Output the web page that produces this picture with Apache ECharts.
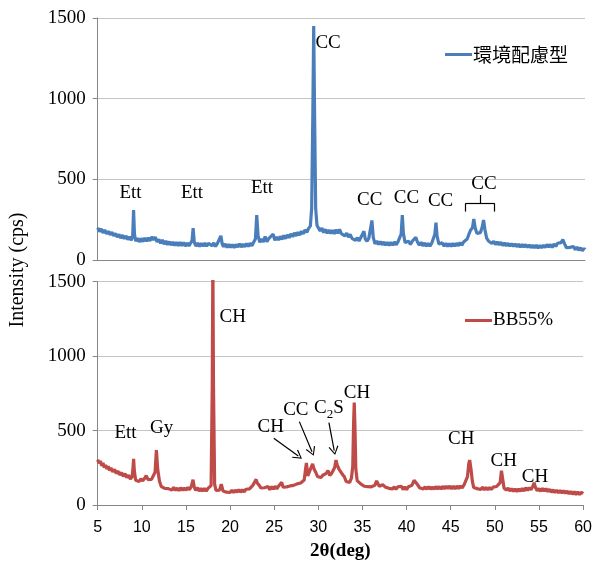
<!DOCTYPE html>
<html><head><meta charset="utf-8">
<script src="https://cdn.jsdelivr.net/npm/echarts@6/dist/echarts.min.js"></script>
<style>html,body{margin:0;padding:0;background:#fff}#c{width:595px;height:562px}</style>
</head><body><div id="c"></div>
<script>
// ---- data ----
const xMin = 5, xMax = 60, xStep = 5;
const yMin = 0, yMax = 1500, yStep = 500;
const envName = '環境配慮型';
const bbName = 'BB55%';
const envPattern = [[5.0,200],[5.2,176],[5.4,192],[5.6,168],[5.8,186],[6.0,162],[6.2,178],[6.4,156],[6.6,172],[6.8,150],[7.0,164],[7.2,142],[7.4,158],[7.6,136],[7.8,154],[8.0,132],[8.2,150],[8.4,126],[8.6,144],[8.8,122],[8.95,150],[9.05,310],[9.15,160],[9.3,116],[9.5,136],[9.7,112],[9.9,134],[10.1,114],[10.3,136],[10.5,116],[10.7,138],[10.9,118],[11.1,144],[11.3,124],[11.5,142],[11.7,112],[11.9,128],[12.1,104],[12.3,124],[12.5,98],[12.7,118],[12.9,94],[13.1,114],[13.3,92],[13.5,112],[13.7,90],[13.9,110],[14.1,88],[14.3,110],[14.5,88],[14.7,108],[14.9,86],[15.1,106],[15.3,88],[15.5,106],[15.65,120],[15.77,198],[15.9,110],[16.1,86],[16.3,106],[16.5,84],[16.7,104],[16.9,86],[17.1,106],[17.3,86],[17.5,104],[17.7,116],[17.9,88],[18.1,106],[18.3,84],[18.5,102],[18.7,112],[18.9,150],[19.05,100],[19.2,82],[19.4,100],[19.6,78],[19.8,98],[20.0,78],[20.2,96],[20.4,76],[20.6,96],[20.8,80],[21.0,100],[21.2,80],[21.4,98],[21.6,82],[21.8,102],[22.0,84],[22.2,104],[22.4,88],[22.6,110],[22.8,130],[22.95,278],[23.1,150],[23.3,110],[23.5,130],[23.7,112],[23.9,146],[24.1,114],[24.3,132],[24.5,124],[24.8,160],[25.0,122],[25.2,142],[25.4,124],[25.6,146],[25.8,128],[26.0,152],[26.2,132],[26.4,156],[26.6,138],[26.8,162],[27.0,144],[27.2,168],[27.4,150],[27.6,172],[27.8,154],[28.0,178],[28.2,162],[28.4,186],[28.6,172],[28.8,196],[29.0,210],[29.15,320],[29.28,900],[29.38,1450],[29.48,900],[29.6,320],[29.75,215],[29.9,200],[30.1,180],[30.3,198],[30.5,170],[30.7,190],[30.9,166],[31.1,186],[31.3,164],[31.5,184],[31.7,162],[31.9,188],[32.1,166],[32.3,190],[32.5,164],[32.7,170],[32.9,150],[33.1,166],[33.3,142],[33.5,158],[33.7,134],[33.9,142],[34.1,122],[34.3,138],[34.5,118],[34.7,140],[34.9,150],[35.05,178],[35.2,130],[35.4,116],[35.6,134],[35.8,140],[35.95,245],[36.1,140],[36.3,100],[36.5,118],[36.7,96],[36.9,114],[37.1,94],[37.3,112],[37.5,92],[37.7,110],[37.9,90],[38.1,110],[38.3,92],[38.5,112],[38.7,94],[38.9,114],[39.1,114],[39.25,160],[39.38,278],[39.5,165],[39.7,108],[39.9,98],[40.1,116],[40.3,96],[40.5,116],[40.7,126],[40.9,140],[41.1,110],[41.3,92],[41.5,110],[41.7,88],[41.9,106],[42.1,86],[42.3,104],[42.5,86],[42.7,104],[42.9,110],[43.05,160],[43.18,232],[43.3,150],[43.5,100],[43.7,88],[43.9,106],[44.1,86],[44.3,104],[44.5,84],[44.7,102],[44.9,84],[45.1,104],[45.3,86],[45.5,104],[45.7,88],[45.9,108],[46.1,92],[46.3,112],[46.5,112],[46.7,130],[46.9,160],[47.1,186],[47.3,200],[47.45,254],[47.6,200],[47.8,165],[48.0,155],[48.2,170],[48.4,205],[48.55,248],[48.7,190],[48.9,135],[49.1,118],[49.3,114],[49.5,102],[49.7,116],[49.9,96],[50.1,112],[50.3,94],[50.5,110],[50.7,90],[50.9,106],[51.1,88],[51.3,104],[51.5,86],[51.7,102],[51.9,84],[52.1,100],[52.3,82],[52.5,98],[52.7,80],[52.9,96],[53.1,80],[53.3,96],[53.5,78],[53.7,94],[53.9,76],[54.1,92],[54.3,76],[54.5,92],[54.7,74],[54.9,90],[55.1,76],[55.3,92],[55.5,78],[55.7,96],[55.9,80],[56.1,96],[56.3,78],[56.5,100],[56.7,84],[56.9,104],[57.1,95],[57.3,108],[57.5,126],[57.7,100],[57.9,76],[58.1,84],[58.3,78],[58.5,70],[58.7,84],[58.9,64],[59.1,80],[59.3,60],[59.5,76],[59.7,58],[59.9,72],[60.0,65]];
const bbPattern = [[5.0,305],[5.15,280],[5.3,296],[5.45,264],[5.6,282],[5.75,252],[5.9,268],[6.05,242],[6.2,260],[6.35,232],[6.5,250],[6.7,222],[6.9,240],[7.1,212],[7.3,228],[7.5,202],[7.7,218],[7.9,192],[8.1,210],[8.3,184],[8.5,200],[8.7,174],[8.9,190],[9.0,250],[9.07,310],[9.15,230],[9.3,166],[9.5,172],[9.7,158],[9.9,176],[10.1,162],[10.3,178],[10.5,198],[10.7,170],[10.9,176],[11.1,172],[11.3,182],[11.5,220],[11.65,368],[11.8,240],[12.0,160],[12.2,124],[12.4,130],[12.6,112],[12.8,122],[13.0,110],[13.2,120],[13.4,100],[13.6,118],[13.8,98],[14.0,114],[14.2,96],[14.4,116],[14.6,98],[14.8,114],[15.0,100],[15.2,118],[15.4,102],[15.6,124],[15.8,170],[15.95,118],[16.1,98],[16.3,116],[16.5,94],[16.7,112],[16.9,92],[17.1,112],[17.3,94],[17.5,112],[17.7,100],[17.85,130],[17.98,800],[18.05,1650],[18.12,800],[18.25,140],[18.4,98],[18.6,104],[18.8,100],[19.0,140],[19.2,94],[19.4,100],[19.6,86],[19.8,98],[20.0,84],[20.2,100],[20.4,84],[20.6,100],[20.8,86],[21.0,104],[21.2,86],[21.4,102],[21.6,88],[21.8,106],[22.0,96],[22.2,108],[22.4,108],[22.6,134],[22.8,156],[22.95,172],[23.1,146],[23.3,132],[23.5,114],[23.7,120],[23.9,116],[24.1,104],[24.3,124],[24.5,102],[24.7,124],[24.9,106],[25.1,126],[25.3,108],[25.5,128],[25.7,136],[25.85,152],[26.0,120],[26.2,124],[26.4,122],[26.6,130],[26.8,128],[27.0,138],[27.2,132],[27.4,144],[27.6,142],[27.8,150],[28.0,148],[28.2,160],[28.4,168],[28.55,240],[28.65,282],[28.8,196],[28.95,218],[29.15,248],[29.35,276],[29.5,244],[29.7,220],[29.9,192],[30.1,196],[30.3,184],[30.5,200],[30.7,188],[30.9,212],[31.1,232],[31.3,198],[31.5,212],[31.7,204],[31.85,252],[32.0,302],[32.15,266],[32.35,240],[32.55,252],[32.75,204],[32.95,190],[33.15,158],[33.35,156],[33.55,152],[33.75,180],[33.9,260],[34.0,560],[34.07,688],[34.15,520],[34.25,240],[34.4,164],[34.6,168],[34.8,142],[35.0,146],[35.2,126],[35.4,136],[35.6,124],[35.8,136],[36.0,122],[36.2,134],[36.4,132],[36.6,162],[36.75,168],[36.9,126],[37.1,132],[37.3,136],[37.45,148],[37.6,120],[37.8,124],[38.0,112],[38.2,124],[38.4,108],[38.6,122],[38.8,106],[39.0,122],[39.2,118],[39.4,126],[39.6,104],[39.8,122],[40.0,104],[40.2,122],[40.4,114],[40.6,132],[40.85,166],[41.05,158],[41.25,136],[41.5,114],[41.7,124],[41.9,108],[42.1,122],[42.3,106],[42.5,124],[42.7,106],[42.9,122],[43.1,106],[43.3,124],[43.5,108],[43.7,124],[43.9,106],[44.1,126],[44.3,108],[44.5,126],[44.7,110],[44.9,128],[45.1,108],[45.3,126],[45.5,108],[45.7,128],[45.9,110],[46.1,128],[46.3,114],[46.5,134],[46.7,140],[46.9,190],[47.05,280],[47.15,302],[47.3,240],[47.45,160],[47.6,118],[47.8,122],[48.0,110],[48.2,120],[48.4,104],[48.6,120],[48.8,102],[49.0,118],[49.2,102],[49.4,118],[49.6,104],[49.8,120],[50.0,110],[50.2,124],[50.4,116],[50.6,150],[50.75,230],[50.9,170],[51.05,112],[51.3,100],[51.5,114],[51.7,94],[51.9,110],[52.1,92],[52.3,108],[52.5,90],[52.7,108],[52.9,92],[53.1,112],[53.3,94],[53.5,116],[53.7,98],[53.9,116],[54.1,102],[54.3,125],[54.45,150],[54.6,118],[54.8,96],[55.0,110],[55.2,92],[55.4,112],[55.6,94],[55.8,110],[56.0,90],[56.2,106],[56.4,86],[56.6,102],[56.8,84],[57.0,100],[57.2,82],[57.4,98],[57.6,80],[57.8,96],[58.0,78],[58.2,94],[58.4,74],[58.6,92],[58.8,72],[59.0,90],[59.2,70],[59.4,88],[59.6,70],[59.8,86],[60.0,76]];
// annotations: [text, 2θ, intensity]
const envLabels = [['Ett',8.7,417],['Ett',15.65,417],['Ett',23.55,444],['CC',31.0,1343],['CC',35.7,372],['CC',39.85,382],['CC',43.7,368],['CC',48.6,469]];
const envBracket = [[[46.5,300],[46.5,351]],[[46.5,351],[49.8,351]],[[49.8,351],[49.8,300]],[[48.2,351],[48.2,403]]];
const bbLabels = [['Ett',8.15,486],['Gy',12.25,515],['CH',20.3,1261],['CH',24.6,526],['CC',27.45,638],['C2S',31.2,650],['CH',34.37,750],['CH',46.2,443],['CH',51.0,298],['CH',54.55,186]];
const bbArrows = [[[24.95,448],[27.73,329]],[[27.85,560],[29.28,358]],[[31.2,553],[31.8,365]]];

// ---- chart ----
const SERIF = '"Liberation Serif","Times New Roman",serif';
const SANS = '"Liberation Sans",Arial,sans-serif';
const CJK = '"Noto Sans CJK JP",sans-serif';
const chart = echarts.init(document.getElementById('c'), null, {renderer:'canvas'});

function labelPoints(list){
  return {
    symbol:'circle', symbolSize:1, silent:true,
    itemStyle:{color:'rgba(0,0,0,0)'},
    label:{show:true, position:'inside', color:'#000', fontFamily:SERIF, fontSize:19,
      formatter: p => p.name === 'C2S' ? '{n|C}{s|2}{n|S}' : p.name,
      rich:{ n:{fontFamily:SERIF, fontSize:19, lineHeight:26, color:'#000'},
             s:{fontFamily:SERIF, fontSize:13, lineHeight:13, verticalAlign:'bottom', color:'#000'} }},
    data: list.map(l => ({name:l[0], coord:[l[1], l[2]]}))
  };
}
const chevron = 'path://M0,0 L6,10 L4.8,10.8 L0,2.4 L-4.8,10.8 L-6,10 Z';
function segLines(list, arrow){
  return {
    silent:true, symbol: arrow ? ['none', chevron] : ['none','none'], symbolSize: arrow ? [10,9] : 0,
    symbolKeepAspect:true,
    label:{show:false}, lineStyle:{color:'#000', width:1.2, type:'solid'},
    itemStyle:{color:'#000'},
    emphasis:{disabled:true},
    data: list.map(s => [{coord:s[0]},{coord:s[1]}])
  };
}
const axisGray = '#868686', gridGray = '#c4c4c4';
function yAx(i){
  return {type:'value', gridIndex:i, min:yMin, max:yMax, interval:yStep,
    axisLine:{show:true, lineStyle:{color:axisGray}},
    axisTick:{show:true, length:5, lineStyle:{color:axisGray}},
    axisLabel:{color:'#000', fontFamily:SERIF, fontSize:19, margin:12, formatter: v => String(v)},
    splitLine:{show:true, lineStyle:{color:gridGray, width:1}}};
}
const option = {
  animation:false,
  backgroundColor:'#fff',
  grid:[{left:97.7, right:10, top:18, height:242},{left:97.7, right:10, top:281.7, height:223.3}],
  legend:[
    {data:[envName], left:440, top:40, icon:'rect', itemWidth:27, itemHeight:3, itemGap:2,
     textStyle:{fontFamily:CJK, fontSize:19, color:'#000', padding:[0,0,0,-4]}},
    {data:[bbName], left:460, top:306, icon:'rect', itemWidth:27, itemHeight:3,
     textStyle:{fontFamily:SERIF, fontSize:19, color:'#000', padding:[0,0,0,-4]}}
  ],
  xAxis:[
    {type:'value', gridIndex:0, min:xMin, max:xMax, interval:xStep,
     axisLine:{show:true, onZero:false, lineStyle:{color:axisGray}}, axisTick:{show:false}, axisLabel:{show:false}, splitLine:{show:false}},
    {type:'value', gridIndex:1, min:xMin, max:xMax, interval:xStep,
     axisLine:{show:true, onZero:false, lineStyle:{color:axisGray}},
     axisTick:{show:true, length:5, lineStyle:{color:axisGray}},
     axisLabel:{color:'#000', fontFamily:SANS, fontSize:16, margin:15},
     splitLine:{show:false},
     name:'2θ(deg)', nameLocation:'middle', nameGap:37,
     nameTextStyle:{fontFamily:SERIF, fontWeight:'bold', fontSize:19, color:'#000'}}
  ],
  yAxis:[yAx(0), yAx(1)],
  graphic:[{type:'text', x:18, y:270, rotation:Math.PI/2,
    style:{text:'Intensity (cps)', fontFamily:SERIF, fontSize:20, fill:'#000', align:'center', verticalAlign:'middle', textAlign:'center', textVerticalAlign:'middle'}}],
  series:[
    {name:envName, type:'line', xAxisIndex:0, yAxisIndex:0, data:envPattern, showSymbol:false, symbol:'none',
     lineStyle:{color:'#4a7ebb', width:3.2}, itemStyle:{color:'#4a7ebb'}, clip:true,
     markPoint:labelPoints(envLabels), markLine:segLines(envBracket,false)},
    {name:bbName, type:'line', xAxisIndex:1, yAxisIndex:1, data:bbPattern, showSymbol:false, symbol:'none',
     lineStyle:{color:'#be4b48', width:3.2}, itemStyle:{color:'#be4b48'}, clip:true,
     markPoint:labelPoints(bbLabels), markLine:segLines(bbArrows,true)}
  ]
};
chart.setOption(option);
</script></body></html>
